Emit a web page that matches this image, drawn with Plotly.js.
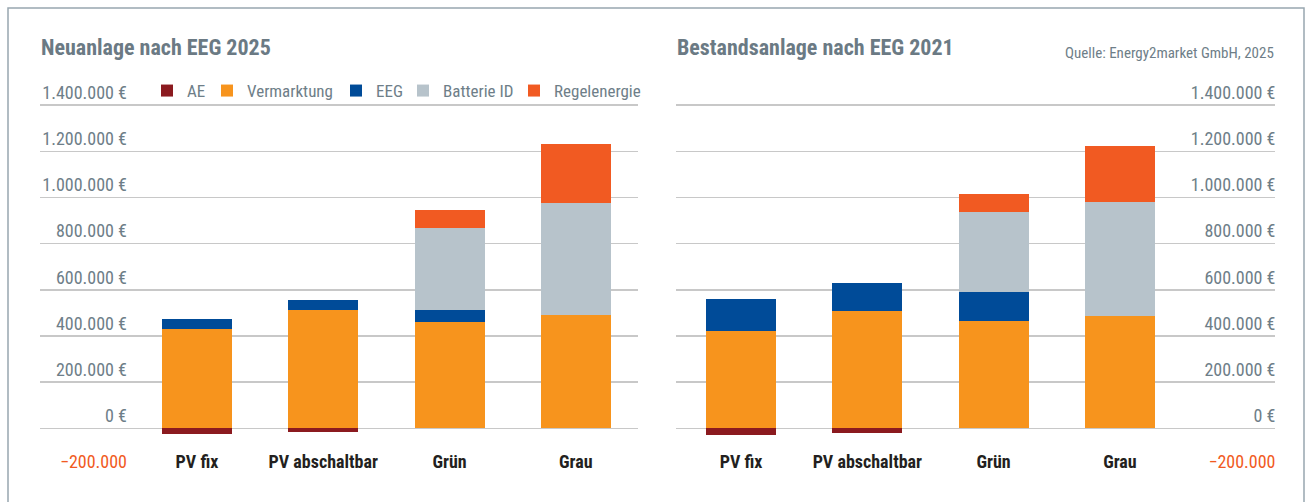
<!DOCTYPE html>
<html>
<head>
<meta charset="utf-8">
<script src="https://cdn.plot.ly/plotly-3.0.1.min.js"></script>
<style>
  html, body { margin: 0; padding: 0; background: #ffffff; }
  #chart { width: 1310px; height: 502px; }
</style>
</head>
<body>
<div id="chart"></div>
<script>
// ---- Data ----
const categories = ['PV fix', 'PV abschaltbar', 'Grün', 'Grau'];
const seriesNames = ['AE', 'Vermarktung', 'EEG', 'Batterie ID', 'Regelenergie'];

// Neuanlage nach EEG 2025
const aeNew        = [-25000, -16000, 0, 0];
const vermNew      = [430000, 512000, 460000, 490000];
const eegNew       = [43000, 43000, 52000, 0];
const batterieNew  = [0, 0, 355000, 485000];
const regelNew     = [0, 0, 78000, 256000];

// Bestandsanlage nach EEG 2021
const aeOld        = [-29000, -19000, 0, 0];
const vermOld      = [421000, 508000, 465000, 486000];
const eegOld       = [139000, 121000, 125000, 0];
const batterieOld  = [0, 0, 346000, 494000];
const regelOld     = [0, 0, 78000, 242000];

const yTickVals   = [-200000, 0, 200000, 400000, 600000, 800000, 1000000, 1200000, 1400000];
const yTickLabels = ['−200.000', '0 €', '200.000 €', '400.000 €', '600.000 €', '800.000 €', '1.000.000 €', '1.200.000 €', '1.400.000 €'];

const titleLeft  = 'Neuanlage nach EEG 2025';
const titleRight = 'Bestandsanlage nach EEG 2021';
const sourceText = 'Quelle: Energy2market GmbH, 2025';

// ---- Styles ----
const colors = ['#8b1a1f', '#f7941d', '#004b98', '#b7c3cb', '#f15a22'];
const FONT = '"Roboto Condensed", Roboto, sans-serif';
const GREY = '#6e7e88';
const W = 1310, H = 502;
const px = v => v / W;
const py = v => 1 - v / H;

const newSeries = [aeNew, vermNew, eegNew, batterieNew, regelNew];
const oldSeries = [aeOld, vermOld, eegOld, batterieOld, regelOld];

// one legend box per series so each entry sits where the original has it
const legendIds = ['legend', 'legend2', 'legend3', 'legend4', 'legend5'];
const legendLeft = [147, 207, 336, 403, 514];

const barWidth = 0.554;
const traces = [];
newSeries.forEach((vals, i) => {
  traces.push({
    type: 'bar', name: seriesNames[i], x: categories, y: vals,
    xaxis: 'x', yaxis: 'y', width: barWidth,
    marker: { color: colors[i], line: { width: 0 } },
    showlegend: true, legend: legendIds[i], hoverinfo: 'skip'
  });
});
oldSeries.forEach((vals, i) => {
  traces.push({
    type: 'bar', name: seriesNames[i], x: categories, y: vals,
    xaxis: 'x2', yaxis: 'y2', width: barWidth,
    marker: { color: colors[i], line: { width: 0 } },
    showlegend: false, hoverinfo: 'skip'
  });
});

const tickText = yTickLabels.map((t, i) =>
  yTickVals[i] < 0 ? '<span style="color:#f15a22">' + t + '</span>' : t);

const yRange = [-200000, 1492000];
const yDomain = [1 - 474.4 / H, 1 - 84 / H];

function yAxis(pos) {
  return {
    domain: yDomain, range: yRange, anchor: 'free', position: pos, side: 'left',
    tickmode: 'array', tickvals: yTickVals, ticktext: tickText,
    ticklabelposition: 'outside top', ticks: '', showline: false,
    showgrid: true, gridcolor: '#c8c8c8', gridwidth: 1.5, zeroline: false,
    tickfont: { family: FONT, size: 18, color: GREY }, fixedrange: true
  };
}
function xAxis(domain, range) {
  return {
    domain: domain, range: range, type: 'category', anchor: 'free', position: 1 - 449 / H,
    showgrid: false, zeroline: false, showline: false, ticks: '',
    tickfont: { family: FONT, size: 18, color: '#231f20', weight: 'bold' }, fixedrange: true
  };
}

const layout = {
  width: W, height: H, autosize: false,
  margin: { l: 0, r: 0, t: 0, b: 0, pad: 0 },
  paper_bgcolor: '#ffffff', plot_bgcolor: 'rgba(0,0,0,0)',
  barmode: 'relative', bargap: 0,
  font: { family: FONT, color: GREY },
  xaxis: xAxis([px(40), px(638)], [-1.243, 3.492]),
  yaxis: yAxis(px(127)),
  xaxis2: xAxis([px(676), px(1275)], [-0.515, 4.228]),
  yaxis2: yAxis(px(1275.5)),
  showlegend: true,
  annotations: [
    { text: titleLeft, xref: 'paper', yref: 'paper', x: px(39), y: py(47), xanchor: 'left', yanchor: 'middle',
      showarrow: false, font: { family: FONT, size: 22, color: '#6b7a84', weight: 'bold' } },
    { text: titleRight, xref: 'paper', yref: 'paper', x: px(675), y: py(47), xanchor: 'left', yanchor: 'middle',
      showarrow: false, font: { family: FONT, size: 22, color: '#6b7a84', weight: 'bold' } },
    { text: sourceText, xref: 'paper', yref: 'paper', x: px(1276), y: py(53), xanchor: 'right', yanchor: 'middle',
      showarrow: false, font: { family: FONT, size: 15, color: GREY } }
  ],
  shapes: [
    { type: 'rect', xref: 'paper', yref: 'paper', x0: px(8), x1: px(1304), y0: -0.05, y1: py(8),
      line: { color: '#98a7b0', width: 1.5 }, fillcolor: 'rgba(0,0,0,0)', layer: 'below' }
  ]
};
legendIds.forEach((id, i) => {
  layout[id] = {
    orientation: 'h', x: px(legendLeft[i]), xanchor: 'left', y: py(91), yanchor: 'middle',
    traceorder: 'normal', bgcolor: 'rgba(0,0,0,0)', borderwidth: 0,
    font: { family: FONT, size: 17, color: GREY }
  };
});

Plotly.newPlot('chart', traces, layout, { displayModeBar: false, staticPlot: true });
</script>
</body>
</html>
